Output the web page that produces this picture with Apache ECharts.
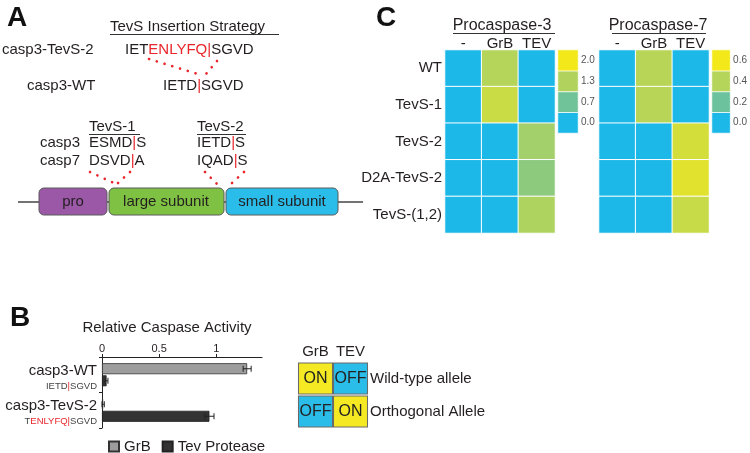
<!DOCTYPE html>
<html><head><meta charset="utf-8">
<script src="https://cdn.jsdelivr.net/npm/echarts@6/dist/echarts.min.js"></script>
<style>html,body{margin:0;padding:0;background:#fff}#c{width:750px;height:453px}</style>
</head><body><div id="c"></div>
<script>
const FONT = '"Liberation Sans", Arial, sans-serif';
const INK = '#231f20';
const RED = '#e8262c';
const BLUE = '#1cb8e8';
const TEAL = '#6cc29c';
const GREEN = '#b5d45a';
const YELLOW = '#f2e81a';

// ---- Panel B data ----
const barCategories = ['casp3-WT', 'casp3-TevS-2'];
const barSeqParts = [['IETD', '', 'SGVD'], ['T', 'ENLYFQ', 'SGVD']];
const grbValues = [1.27, 0.01];
const grbErrors = [0.035, 0.01];
const tevValues = [0.04, 0.94];
const tevErrors = [0.012, 0.04];
const barTicks = [0, 0.5, 1];

// ---- Panel C data ----
const heatRows = ['WT', 'TevS-1', 'TevS-2', 'D2A-TevS-2', 'TevS-(1,2)'];
const treatments = ['-', 'GrB', 'TEV'];
const procasp3 = [[0, 1.33, 0], [0, 1.55, 0], [0, 0, 1.17], [0, 0, 0.97], [0, 0, 1.28]];
const procasp7 = [[0, 0.41, 0], [0, 0.41, 0], [0, 0, 0.50], [0, 0, 0.54], [0, 0, 0.46]];
const scale3Ticks = ['0.0', '0.7', '1.3', '2.0'];
const scale7Ticks = ['0.0', '0.2', '0.4', '0.6'];

// ---- ON/OFF legend data ----
const switchProteases = ['GrB', 'TEV'];
const switchAlleles = ['Wild-type allele', 'Orthogonal Allele'];
const switchStates = [['ON', 'OFF'], ['OFF', 'ON']];

function heatData(m) {
  const out = [];
  m.forEach((row, r) => row.forEach((v, c) => out.push([c, r, v])));
  return out;
}
function barData(ticks) { return ticks.map((t, i) => [0, i, parseFloat(t)]); }

function errRender(offset) {
  return function (params, api) {
    const m = api.value(0), c = api.value(1), e = api.value(2);
    const lo = api.coord([Math.max(0, m - e), c]);
    const hi = api.coord([m + e, c]);
    const y = lo[1] + offset, h = 3;
    const st = { stroke: '#222', lineWidth: 1 };
    return { type: 'group', children: [
      { type: 'line', shape: { x1: lo[0], y1: y, x2: hi[0], y2: y }, style: st },
      { type: 'line', shape: { x1: lo[0], y1: y - h, x2: lo[0], y2: y + h }, style: st },
      { type: 'line', shape: { x1: hi[0], y1: y - h, x2: hi[0], y2: y + h }, style: st }
    ] };
  };
}

function T(x, y, text, o) {
  return { type: 'text', x: x, y: y, silent: true, style: Object.assign({
    text: text, fill: INK, fontSize: 15, fontFamily: FONT, align: 'left', verticalAlign: 'middle',
    rich: { r: { fill: RED, fontSize: (o && o.fontSize) || 15, fontFamily: FONT } }
  }, o || {}) };
}
function L(x1, y1, x2, y2, o) {
  return { type: 'line', silent: true, shape: { x1, y1, x2, y2 },
    style: Object.assign({ stroke: '#333', lineWidth: 1 }, o || {}) };
}
const dots = { stroke: RED, lineWidth: 2.6, lineDash: [0.1, 8], lineCap: 'round' };
function box(x, w, fill) {
  return { type: 'rect', silent: true, shape: { x: x, y: 188, width: w, height: 27, r: 5 },
    style: { fill: fill, stroke: '#5a5a5a', lineWidth: 1 } };
}

const graphics = [
  T(7, 18, 'A', { fontSize: 28, fontWeight: 'bold', fill: '#111' }),
  T(10, 318, 'B', { fontSize: 28, fontWeight: 'bold', fill: '#111' }),
  T(376, 18, 'C', { fontSize: 28, fontWeight: 'bold', fill: '#111' }),
  // Insertion strategy
  T(110, 27, 'TevS Insertion Strategy'),
  L(110, 34.5, 279, 34.5),
  T(2, 50, 'casp3-TevS-2'),
  T(125, 50, 'IET{r|ENLYFQ|}SGVD'),
  L(149, 59, 201, 75, dots),
  L(217, 61, 206, 74, dots),
  T(27, 86, 'casp3-WT'),
  T(163, 86, 'IETD{r||}SGVD'),
  // TevS sites
  T(89, 127, 'TevS-1'),
  L(89, 134.5, 140, 134.5),
  T(197, 127, 'TevS-2'),
  L(197, 134.5, 246, 134.5),
  T(40, 143, 'casp3'),
  T(40, 161, 'casp7'),
  T(89, 143, 'ESMD{r||}S'),
  T(89, 161, 'DSVD{r||}A'),
  T(197, 143, 'IETD{r||}S'),
  T(197, 161, 'IQAD{r||}S'),
  L(90, 172, 116, 184, dots),
  L(130, 172, 117, 184, dots),
  L(205, 172, 217, 184, dots),
  L(244, 172, 231, 184, dots),
  // protein schematic
  L(18, 202, 363, 202, { stroke: '#444', lineWidth: 1.5 }),
  box(39, 68, '#9a58a6'),
  box(109, 115, '#7fc142'),
  box(226, 112, '#2bbde9'),
  T(73, 202, 'pro', { align: 'center' }),
  T(166, 202, 'large subunit', { align: 'center' }),
  T(282, 202, 'small subunit', { align: 'center' }),
  // Panel B title
  T(167, 328, 'Relative Caspase Activity', { align: 'center' }),
  // Panel C titles
  T(502, 26, 'Procaspase-3', { align: 'center', fontSize: 16 }),
  L(453, 33.5, 555, 33.5),
  T(658, 26, 'Procaspase-7', { align: 'center', fontSize: 16 }),
  L(612, 33.5, 706, 33.5)
];

const catAxisBase = { type: 'category', axisLine: { show: false }, axisTick: { show: false }, splitLine: { show: false } };
const heatLabel = { fontSize: 15, color: INK, fontFamily: FONT, interval: 0 };

const option = {
  animation: false,
  backgroundColor: '#fff',
  textStyle: { fontFamily: FONT },
  grid: [
    { left: 102, top: 357, width: 160, height: 71 },
    { left: 445, top: 50, width: 110, height: 183 },
    { left: 558, top: 50, width: 20, height: 83 },
    { left: 599, top: 50, width: 110, height: 183 },
    { left: 712, top: 50, width: 21, height: 83 },
    { left: 298, top: 362, width: 70, height: 66 }
  ],
  xAxis: [
    { type: 'value', gridIndex: 0, min: 0, max: 1.4, position: 'top',
      axisLine: { show: true, lineStyle: { color: '#222', width: 1 } },
      axisTick: { show: true, length: 3, customValues: barTicks, lineStyle: { color: '#222' } },
      axisLabel: { customValues: barTicks, margin: 3, fontSize: 11, color: INK, formatter: v => String(v) },
      splitLine: { show: false } },
    Object.assign({}, catAxisBase, { gridIndex: 1, data: treatments, position: 'top', axisLabel: Object.assign({ margin: -1 }, heatLabel) }),
    Object.assign({}, catAxisBase, { gridIndex: 2, data: [''], show: false }),
    Object.assign({}, catAxisBase, { gridIndex: 3, data: treatments, position: 'top', axisLabel: Object.assign({ margin: -1 }, heatLabel) }),
    Object.assign({}, catAxisBase, { gridIndex: 4, data: [''], show: false }),
    Object.assign({}, catAxisBase, { gridIndex: 5, data: switchProteases, position: 'top', axisLabel: Object.assign({ margin: 3 }, heatLabel) })
  ],
  yAxis: [
    { type: 'category', gridIndex: 0, data: barCategories, inverse: true,
      axisLine: { show: true, lineStyle: { color: '#222', width: 1 } },
      axisTick: { show: true, length: 3, lineStyle: { color: '#222' } },
      axisLabel: { margin: 5, padding: [6, 0, 0, 0], interval: 0,
        formatter: function (v, i) {
          const p = barSeqParts[i];
          return '{a|' + v + '}\n' + (p[0] ? '{s|' + p[0] + '}' : '') + '{r|' + p[1] + '|}{s|' + p[2] + '}';
        },
        rich: {
          a: { fontSize: 15, color: INK, fontFamily: FONT, lineHeight: 17 },
          s: { fontSize: 9.5, color: '#444', fontFamily: FONT, lineHeight: 14 },
          r: { fontSize: 9.5, color: RED, fontFamily: FONT, lineHeight: 14 }
        } } },
    Object.assign({}, catAxisBase, { gridIndex: 1, data: heatRows, inverse: true, axisLabel: Object.assign({ margin: 3 }, heatLabel) }),
    Object.assign({}, catAxisBase, { gridIndex: 2, data: scale3Ticks, position: 'right', axisLabel: { margin: 3, interval: 0, fontSize: 10, color: '#555', fontFamily: FONT } }),
    Object.assign({}, catAxisBase, { gridIndex: 3, data: heatRows, inverse: true, axisLabel: { show: false } }),
    Object.assign({}, catAxisBase, { gridIndex: 4, data: scale7Ticks, position: 'right', axisLabel: { margin: 3, interval: 0, fontSize: 10, color: '#555', fontFamily: FONT } }),
    Object.assign({}, catAxisBase, { gridIndex: 5, data: switchAlleles, inverse: true, position: 'right', axisLabel: Object.assign({ margin: 2 }, heatLabel) })
  ],
  legend: {
    data: ['GrB', 'Tev Protease'], left: 103, top: 434, icon: 'rect', itemWidth: 10, itemHeight: 10,
    itemGap: 11, textStyle: { fontSize: 15, color: INK, fontFamily: FONT }, selectedMode: false
  },
  visualMap: [
    { type: 'continuous', show: false, seriesIndex: [4, 5], min: 0, max: 2, inRange: { color: [BLUE, TEAL, GREEN, YELLOW] } },
    { type: 'continuous', show: false, seriesIndex: [6, 7], min: 0, max: 0.6, inRange: { color: [BLUE, TEAL, GREEN, YELLOW] } }
  ],
  series: [
    { type: 'bar', name: 'GrB', xAxisIndex: 0, yAxisIndex: 0, data: grbValues, barWidth: 11, barGap: '10%',
      itemStyle: { color: '#9d9d9d', borderColor: '#333', borderWidth: 0.8 } },
    { type: 'bar', name: 'Tev Protease', xAxisIndex: 0, yAxisIndex: 0, data: tevValues, barWidth: 11, barGap: '10%',
      itemStyle: { color: '#333333', borderColor: '#222', borderWidth: 0.8 } },
    { type: 'custom', name: 'GrB error', xAxisIndex: 0, yAxisIndex: 0, renderItem: errRender(-6), encode: { x: 0, y: 1 },
      data: grbValues.map((v, i) => [v, i, grbErrors[i]]), z: 5 },
    { type: 'custom', name: 'Tev error', xAxisIndex: 0, yAxisIndex: 0, renderItem: errRender(6), encode: { x: 0, y: 1 },
      data: tevValues.map((v, i) => [v, i, tevErrors[i]]), z: 5 },
    { type: 'heatmap', xAxisIndex: 1, yAxisIndex: 1, data: heatData(procasp3), itemStyle: { borderColor: '#fff', borderWidth: 1 } },
    { type: 'heatmap', xAxisIndex: 2, yAxisIndex: 2, data: barData(scale3Ticks), itemStyle: { borderColor: '#fff', borderWidth: 0.8 } },
    { type: 'heatmap', xAxisIndex: 3, yAxisIndex: 3, data: heatData(procasp7), itemStyle: { borderColor: '#fff', borderWidth: 1 } },
    { type: 'heatmap', xAxisIndex: 4, yAxisIndex: 4, data: barData(scale7Ticks), itemStyle: { borderColor: '#fff', borderWidth: 0.8 } },
    { type: 'scatter', xAxisIndex: 5, yAxisIndex: 5, symbol: 'rect', symbolSize: [34, 31],
      data: (function () {
        const out = [];
        switchStates.forEach((row, r) => row.forEach((s, c) => out.push({
          value: [c, r], name: s,
          itemStyle: { color: s === 'ON' ? '#f4e923' : '#2bbde9', borderColor: '#6a6a6a', borderWidth: 1, opacity: 1 }
        })));
        return out;
      })(),
      label: { show: true, position: 'inside', formatter: p => p.name, fontSize: 16, color: '#222', fontFamily: FONT } }
  ],
  graphic: graphics
};

const chart = echarts.init(document.getElementById('c'), null, { renderer: 'canvas' });
chart.setOption(option);
</script>
</body></html>
